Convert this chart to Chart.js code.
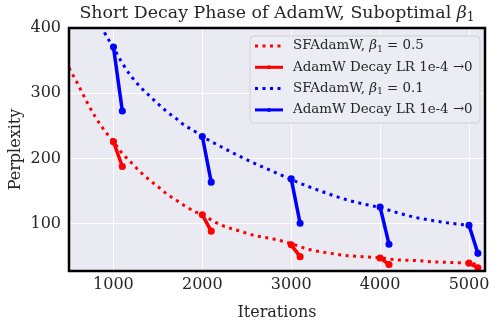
<!DOCTYPE html>
<html>
<head>
<meta charset="utf-8">
<script src="https://cdn.jsdelivr.net/npm/chart.js@4.4.1/dist/chart.umd.min.js"></script>
<style>
  html, body { margin: 0; padding: 0; background: #fff; }
  #wrap { width: 498px; height: 325px; }
</style>
</head>
<body>
<div id="wrap"><canvas id="chart"></canvas></div>
<script>
const xTicks = [1000, 2000, 3000, 4000, 5000];
const yTicks = [100, 200, 300, 400];

// SFAdamW beta1 = 0.5 (red dotted)
const iters05 = [500, 600, 700, 800, 900, 1000, 1100, 1200, 1300, 1400, 1500, 1600, 1700, 1800, 1900, 2000,
  2200, 2400, 2600, 2800, 3000, 3200, 3400, 3600, 3800, 4000, 4200, 4400, 4600, 4800, 5000, 5100];
const sfadamw05 = [339, 314, 287, 263, 243, 226, 208, 194, 180, 168, 157, 146, 137, 128, 120, 114,
  99, 90, 82, 77, 70, 61, 56, 52, 50, 48, 45, 44, 42, 41, 40, 38];

// SFAdamW beta1 = 0.1 (blue dotted)
const iters01 = [800, 900, 1000, 1100, 1200, 1300, 1400, 1500, 1600, 1700, 1800, 1900, 2000,
  2200, 2400, 2600, 2800, 3000, 3200, 3400, 3600, 3800, 4000, 4200, 4400, 4600, 4800, 5000];
const sfadamw01 = [425, 393, 370, 346, 326, 310, 297, 284, 272, 262, 251, 243, 234,
  219, 205, 192, 180, 168, 157, 147, 138, 131, 125, 117, 110, 105, 101, 98];

// short decay phases of AdamW
const decayStart = [1000, 2000, 3000, 4000, 5000];
const decayEnd = [1100, 2100, 3100, 4100, 5100];
const decay05From = [226, 114, 68, 48, 40];
const decay05To = [188, 89, 50, 38, 33];
const decay01From = [371, 234, 169, 126, 98];
const decay01To = [273, 164, 101, 69, 55];

const SERIF = '"DejaVu Serif", serif';
const TEXT = '#262626';

function pairs(xs, ys) {
  return xs.map((x, i) => ({ x: x, y: ys[i] }));
}

function segments(from, to) {
  const out = [];
  decayStart.forEach((s, i) => {
    out.push({ x: s, y: from[i] });
    out.push({ x: decayEnd[i], y: to[i] });
    if (i < decayStart.length - 1) out.push({ x: decayEnd[i] + 1, y: null });
  });
  return out;
}

// text made of pieces: {t, italic, sub}
function partFont(p, size) {
  const s = p.sub ? size * 0.7 : size;
  return (p.italic ? 'italic ' : '') + s + 'px ' + SERIF;
}
function richWidth(ctx, parts, size) {
  let w = 0;
  parts.forEach(p => {
    ctx.font = partFont(p, size);
    w += ctx.measureText(p.t).width;
  });
  return w;
}
function drawRich(ctx, parts, x, y, size, align) {
  let cx = align === 'center' ? x - richWidth(ctx, parts, size) / 2 : x;
  ctx.textAlign = 'left';
  ctx.textBaseline = 'middle';
  parts.forEach(p => {
    ctx.font = partFont(p, size);
    ctx.fillText(p.t, cx, p.sub ? y + size * 0.25 : y);
    cx += ctx.measureText(p.t).width;
  });
}

const titleParts = [
  { t: 'Short Decay Phase of AdamW, Suboptimal ' },
  { t: 'β', italic: true },
  { t: '1', sub: true }
];

const legendRows = [
  { parts: [{ t: 'SFAdamW, ' }, { t: 'β', italic: true }, { t: '1', sub: true }, { t: ' = 0.5' }], color: '#ff0000', dotted: true },
  { parts: [{ t: 'AdamW Decay LR 1e-4 →0' }], color: '#ff0000', dotted: false },
  { parts: [{ t: 'SFAdamW, ' }, { t: 'β', italic: true }, { t: '1', sub: true }, { t: ' = 0.1' }], color: '#0000ff', dotted: true },
  { parts: [{ t: 'AdamW Decay LR 1e-4 →0' }], color: '#0000ff', dotted: false }
];

const decor = {
  id: 'decor',
  beforeDraw(chart) {
    const { ctx, chartArea: a } = chart;
    ctx.save();
    ctx.fillStyle = '#EAEAF2';
    ctx.fillRect(a.left, a.top, a.width, a.height);
    ctx.restore();
  },
  afterDraw(chart) {
    const { ctx, chartArea: a } = chart;
    ctx.save();
    // frame
    ctx.strokeStyle = '#000';
    ctx.lineWidth = 2.5;
    ctx.strokeRect(a.left, a.top, a.width, a.height);

    // title
    ctx.fillStyle = TEXT;
    drawRich(ctx, titleParts, (a.left + a.right) / 2, 13, 17.4, 'center');

    // legend box
    const bx = 250, by = 36, bw = 230, bh = 87;
    ctx.beginPath();
    ctx.roundRect(bx, by, bw, bh, 4);
    ctx.fillStyle = 'rgba(236,236,243,0.95)';
    ctx.fill();
    ctx.strokeStyle = '#cfcfd6';
    ctx.lineWidth = 1;
    ctx.stroke();

    legendRows.forEach((r, i) => {
      const y = 46 + i * 21.3;
      ctx.strokeStyle = r.color;
      ctx.lineWidth = 3;
      ctx.setLineDash(r.dotted ? [3, 4.5] : []);
      ctx.beginPath();
      ctx.moveTo(255, y);
      ctx.lineTo(283, y);
      ctx.stroke();
      ctx.setLineDash([]);
      if (!r.dotted) {
        ctx.fillStyle = r.color;
        ctx.beginPath();
        ctx.arc(269, y, 2, 0, Math.PI * 2);
        ctx.fill();
      }
      ctx.fillStyle = TEXT;
      drawRich(ctx, r.parts, 293, y, 13.4, 'left');
    });
    ctx.restore();
  }
};

new Chart(document.getElementById('chart'), {
  type: 'line',
  data: {
    datasets: [
      {
        data: segments(decay01From, decay01To),
        borderColor: '#0000ff', backgroundColor: '#0000ff',
        borderWidth: 3.5, pointRadius: 1.8, pointHoverRadius: 1.8,
        spanGaps: false, clip: 0
      },
      {
        data: segments(decay05From, decay05To),
        borderColor: '#ff0000', backgroundColor: '#ff0000',
        borderWidth: 3.5, pointRadius: 1.8, pointHoverRadius: 1.8,
        spanGaps: false, clip: 0
      },
      {
        data: pairs(iters01, sfadamw01),
        borderColor: '#0000ff', borderWidth: 3, borderDash: [3, 4.5],
        pointRadius: 0, cubicInterpolationMode: 'monotone', clip: 0
      },
      {
        data: pairs(iters05, sfadamw05),
        borderColor: '#ff0000', borderWidth: 3, borderDash: [3, 4.5],
        pointRadius: 0, cubicInterpolationMode: 'monotone', clip: 0
      }
    ]
  },
  options: {
    responsive: true,
    maintainAspectRatio: false,
    animation: false,
    layout: { padding: { top: 28, right: 13, left: 0, bottom: 0 } },
    plugins: { legend: { display: false }, tooltip: { enabled: false } },
    scales: {
      x: {
        type: 'linear',
        min: 500, max: 5180,
        afterBuildTicks: s => { s.ticks = xTicks.map(v => ({ value: v })); },
        afterFit: s => { s.height = 54; },
        grid: { color: '#ffffff', lineWidth: 1, drawTicks: false },
        border: { display: false },
        ticks: { color: TEXT, font: { family: SERIF, size: 16 }, padding: 4, maxRotation: 0, callback: v => String(v) },
        title: { display: true, text: 'Iterations', color: TEXT, font: { family: SERIF, size: 16 }, padding: { top: 0, bottom: 3 } }
      },
      y: {
        min: 28, max: 400,
        afterBuildTicks: s => { s.ticks = yTicks.map(v => ({ value: v })); },
        afterFit: s => { s.width = 69; },
        grid: { color: '#ffffff', lineWidth: 1, drawTicks: false },
        border: { display: false },
        ticks: { color: TEXT, font: { family: SERIF, size: 16 }, padding: 8, callback: v => String(v) },
        title: { display: true, text: 'Perplexity', color: TEXT, font: { family: SERIF, size: 16 }, padding: { top: 6, bottom: 0 } }
      }
    }
  },
  plugins: [decor]
});
</script>
</body>
</html>
